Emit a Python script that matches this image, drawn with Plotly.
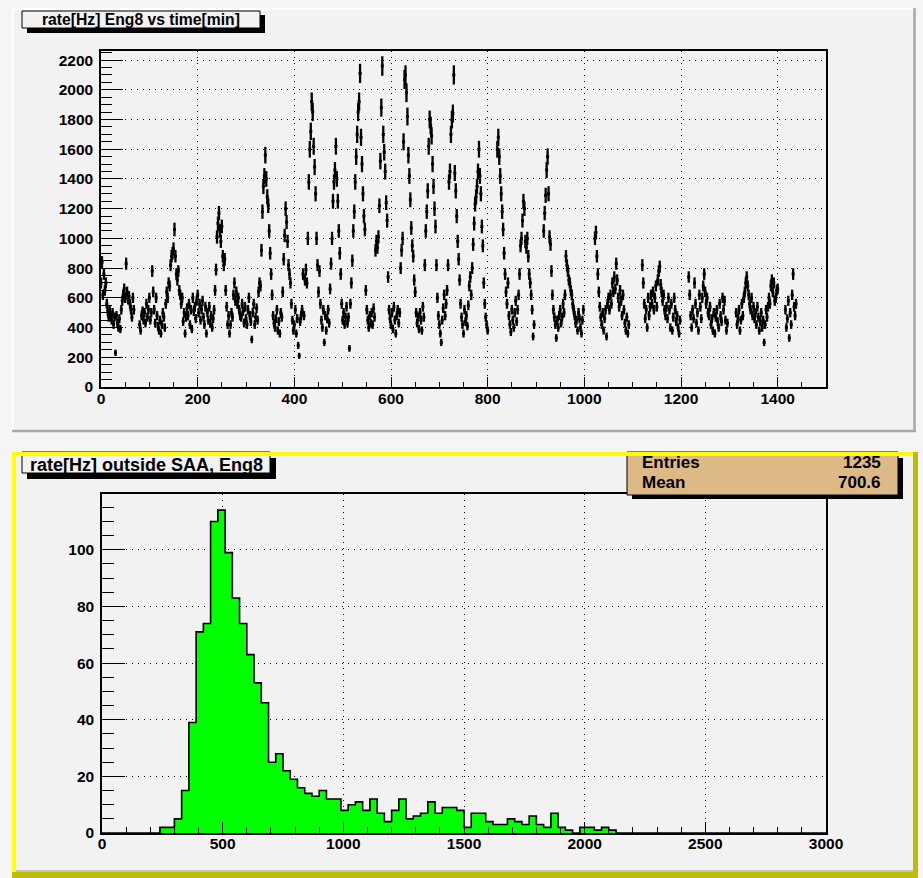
import math
import numpy as np
import plotly.graph_objects as go

# ---------------- data ----------------
# Eng8 rate [Hz], one sample every 2 minutes (None = no data)
TIME_STEP_MIN = 2
RATE_HZ = [
    700, 840, 620, 760, 650, 700, 560, 510, 470, 520, 480, 450, 500, 420, 470,
    230, 480, 430, 400, 460, 390, 520, 580, 620, 660, 600, 830, 640, 590, 610,
    560, 520, 470, 600, 520, None, None, None, None, None, 420, 380, 480, 510, 450,
    500, 430, 560, 470, 520, 600, 450, 500, 780, 640, 520, 430, 600, 480, 410,
    380, 450, 360, 420, 500, 470, 400, 560, 640, 600, 700, 680, 820, 880, 900,
    930, 1060, 880, 760, 720, 780, 650, 620, 560, 600, 440, 500, 360, 470, 530,
    480, 560, 420, 520, 390, 600, 510, 540, 460, 580, 620, 500, 560, 450, 520,
    580, 470, 420, 540, 360, 500, 450, 540, 430, 480, 400, 460, 520, 650, 790,
    1010, 1100, 1170, 1050, 980, 1080, 880, 820, 860, 650, 540, 420, 480, 360, 420,
    500, 470, 620, 700, 580, 640, 560, 600, 520, 480, 470, 560, 510, 430, 540,
    460, 420, 520, 600, 480, 440, 320, 500, 560, 420, 470, 530, 450, 640, 700,
    680, 920, 1180, 1350, 1420, 1560, 1400, 1280, 1220, 1050, 900, 760, 620, 480, 430,
    400, 460, 520, 380, 440, 360, 500, 470, 640, 860, 1020, 1200, 1110, 980, 820,
    760, 700, 560, 450, 380, 420, 520, 360, 460, 280, 210, 440, 480, 520, 760,
    480, 720, 790, 700, 1000, 1380, 1600, 1720, 1920, 1850, 1620, 1480, 1300, 1000, 820,
    640, 780, 560, 450, 400, 520, 300, 480, 380, 460, 520, 430, 660, 830, 1000,
    1250, 1380, 1460, 1620, 1400, 1250, 1050, 900, 760, 560, 450, 500, 420, 470, 540,
    430, 470, 260, 560, 700, 850, 1050, 1180, 1380, 1550, 1700, 1850, 1920, 2110, 1680,
    1500, 1300, 1150, 1060, 650, 520, 450, 400, 480, 430, 500, 420, 530, 470, 920,
    980, 940, 1010, 1220, 1520, 1880, 2160, 1700, 1580, 1450, 1240, 1120, 740, 520, 460,
    420, 500, 390, 540, 450, 360, 480, 520, 430, 500, 800, 920, 1000, 1650, 2070,
    2100, 1980, 1820, 1560, 1420, 1260, 1070, 950, 880, 720, 640, 500, 430, 470, 390,
    500, 450, 380, 540, 470, 820, 1050, 1180, 1320, 1620, 1800, 1760, 1690, 1500, 1350,
    1200, 1080, 820, 600, 480, 420, 360, 300, 450, 530, 620, 480, 560, 650, 820,
    1380, 1450, 1700, 1800, 1840, 2100, 1440, 1320, 1150, 980, 860, 720, 560, 470, 420,
    360, 520, 440, 480, 410, 550, 680, 740, 620, 800, 960, 1100, 1230, 1280, 1350,
    1450, 1600, 1420, 1300, 1080, 950, 700, 560, 470, 420, 380, None, None, None, None,
    None, None, None, None, None, 1600, 1680, 1550, 1420, 1300, 1180, 1060, 900, 760, 640,
    560, 700, 480, 420, 370, 520, 450, 400, 500, 580, 440, 520, 620, 760, 950,
    1000, 1120, 1250, 1200, 980, 940, 1000, 880, 760, 700, 620, 520, 340, 420, None,
    None, None, None, None, None, None, None, None, 1050, 1170, 1290, 1460, 1550, 1300, 1010,
    960, 780, 620, 520, 470, 420, 330, 450, 400, 480, 520, 430, 470, 560, 500,
    620, 880, 820, 780, 720, 700, 650, 620, 560, 520, 480, 430, 450, 380, 500,
    460, 400, 360, 450, 520, None, None, None, None, None, None, None, None, None, None,
    None, 1000, 1040, 880, 760, 640, 540, 470, 420, 500, 380, 460, 520, 340, 560,
    600, 520, 620, 560, 700, 640, 740, 660, 830, 720, 600, 540, 650, 580, 480,
    620, 520, 430, 380, 470, 360, 420, None, None, None, None, None, None, None, None,
    None, None, None, None, None, 820, 700, 560, 460, 520, 400, 600, 480, 540, 620,
    560, 640, 520, 600, 680, 540, 720, 780, 810, 690, 640, 580, 620, 520, 480,
    540, 460, 600, 520, 400, 560, 380, 470, 600, 520, 440, 480, 400, 360, 450,
    None, None, None, None, None, None, None, None, 740, 620, 480, 400, 520, 460, 700,
    560, 430, 500, 380, 620, 540, 460, 600, 680, 760, 640, 560, 600, 500, 480,
    540, 420, 460, 380, 500, 360, 470, 520, 440, 400, 560, 480, 440, 600, 520,
    580, 450, 380, 430, None, None, None, None, None, None, None, None, 500, 420, 460,
    520, 380, 450, 560, 480, 600, 640, 700, 740, 680, 620, 560, 520, 600, 480,
    540, 460, 500, 420, 540, 470, 380, 440, 500, 400, 450, 300, 420, 520, 470,
    540, 600, 560, 680, 720, 640, 700, 580, 600, 650, 660, None, None, None, None,
    None, None, None, 520, 400, 460, 580, 330, 500, 420, 620, 760, 540, 480, 560,
]
TIME_MIN = [i * TIME_STEP_MIN for i in range(len(RATE_HZ))]
LIVE_TIME_S = 0.5  # counting time per sample, sets the statistical error bars

# Rate histogram outside SAA: 100 bins of 30 Hz from 0 to 3000 Hz
HIST_LO, HIST_HI, HIST_BIN = 0, 3000, 30
HIST_COUNTS = [
    0, 0, 0, 0, 0, 0, 0, 0, 2, 2,          # 0 - 300
    5, 15, 39, 71, 74, 110, 114, 99, 83, 74,   # 300 - 600
    63, 53, 46, 25, 28, 22, 19, 16, 14, 13,    # 600 - 900
    15, 12, 12, 8, 10, 11, 8, 12, 7, 4,        # 900 - 1200
    8, 12, 5, 6, 7, 11, 7, 9, 9, 8,            # 1200 - 1500
    2, 7, 7, 4, 3, 3, 5, 4, 3, 6,              # 1500 - 1800
    3, 2, 7, 2, 1, 0, 2, 2, 1, 2,              # 1800 - 2100
    1, 0, 0, 0, 0, 0, 0, 0, 0, 0,              # 2100 - 2400
    0, 0, 0, 0, 0, 0, 0, 0, 0, 0,              # 2400 - 2700
    0, 0, 0, 0, 0, 0, 0, 0, 0, 0,              # 2700 - 3000
]
STATS_MEAN = 700.6

TOP_TITLE = "rate[Hz] Eng8 vs time[min]"
BOTTOM_TITLE = "rate[Hz] outside SAA, Eng8"

# ---------------- canvas geometry (pixels) ----------------
W, H = 923, 878
PAD_BG = "#f2f2f2"
CANVAS_BG = "#f5f5f5"
FONT = "Liberation Sans, Arial, Helvetica, sans-serif"


def px(x):
    return x / W


def py(y):
    return 1 - y / H


rate_err = [None if r is None else math.sqrt(r / LIVE_TIME_S) for r in RATE_HZ]

edges = [HIST_LO + i * HIST_BIN for i in range(len(HIST_COUNTS) + 1)]
centers = [e + HIST_BIN / 2 for e in edges[:-1]]
entries = int(sum(HIST_COUNTS))

fig = go.Figure()

# time series with statistical error bars
fig.add_trace(go.Scatter(
    x=TIME_MIN, y=RATE_HZ, mode="markers",
    marker=dict(color="black", size=3, symbol="square", line=dict(width=0)),
    error_y=dict(type="data", array=rate_err, visible=True, color="black",
                 thickness=2.3, width=0),
    xaxis="x", yaxis="y", showlegend=False, hoverinfo="x+y",
))

# histogram: green fill plus black step outline
fig.add_trace(go.Bar(
    x=centers, y=HIST_COUNTS, width=HIST_BIN,
    marker=dict(color="#00ff00", line=dict(width=0)),
    xaxis="x2", yaxis="y2", showlegend=False,
))
fig.add_trace(go.Scatter(
    x=edges, y=HIST_COUNTS + [HIST_COUNTS[-1]], mode="lines",
    line=dict(color="black", width=1.6, shape="hv"),
    xaxis="x2", yaxis="y2", showlegend=False, hoverinfo="skip",
))

tick_font = dict(family=FONT, size=15.5, color="black", weight="bold")
common = dict(
    showline=True, linecolor="black", linewidth=1.5, mirror=True,
    ticks="inside", tickcolor="black", tickwidth=1,
    showgrid=True, gridcolor="black", gridwidth=1.2, griddash="1px,5px",
    zeroline=False, tickfont=tick_font, fixedrange=True, automargin=False,
)

fig.update_layout(
    width=W, height=H, autosize=False,
    margin=dict(l=0, r=0, t=0, b=0, pad=0),
    paper_bgcolor=CANVAS_BG, plot_bgcolor="rgba(0,0,0,0)",
    bargap=0,
    xaxis=dict(domain=[px(101), px(826)], range=[0, 1500], tick0=0, dtick=200,
               ticklen=10, anchor="y", ticklabelstandoff=-3,
               minor=dict(dtick=50, ticklen=5, ticks="inside", tickcolor="black",
                          showgrid=False), **common),
    yaxis=dict(domain=[py(387), py(51)], range=[0, 2261], tick0=0, dtick=200,
               ticklen=22, anchor="x", ticklabelstandoff=3,
               minor=dict(dtick=50, ticklen=11, ticks="inside", tickcolor="black",
                          showgrid=False), **common),
    xaxis2=dict(domain=[px(102), px(826)], range=[0, 3000], tick0=0, dtick=500,
                ticklen=11, anchor="y2", ticklabelstandoff=-4,
                minor=dict(dtick=100, ticklen=6, ticks="inside", tickcolor="black",
                           showgrid=False), **common),
    yaxis2=dict(domain=[py(833), py(494)], range=[0, 119.7], tick0=0, dtick=20,
                ticklen=23, anchor="x2", ticklabelstandoff=3,
                minor=dict(dtick=5, ticklen=12, ticks="inside", tickcolor="black",
                           showgrid=False), **common),
)


def rect(x0, y0, x1, y1, fill, line_color=None, line_width=0, layer="above"):
    return dict(type="rect", xref="paper", yref="paper",
                x0=px(x0), x1=px(x1), y0=py(y1), y1=py(y0),
                fillcolor=fill, layer=layer,
                line=dict(color=line_color or fill, width=line_width))


def hline(x0, x1, y, color, width):
    return dict(type="line", xref="paper", yref="paper", x0=px(x0), x1=px(x1),
                y0=py(y), y1=py(y), line=dict(color=color, width=width), layer="above")


def vline(x, y0, y1, color, width):
    return dict(type="line", xref="paper", yref="paper", x0=px(x), x1=px(x),
                y0=py(y0), y1=py(y1), line=dict(color=color, width=width), layer="above")


shapes = [
    # pad backgrounds
    rect(12, 8, 916, 432, PAD_BG, layer="below"),
    rect(12, 452, 918, 878, PAD_BG, layer="below"),
    # top pad bevel
    hline(12, 916, 9, "#ffffff", 2),
    vline(13, 8, 432, "#ffffff", 2),
    hline(12, 916, 431, "#a8a8a8", 2.5),
    vline(914.5, 8, 432, "#a8a8a8", 2.5),
    # top title box with shadow
    rect(27, 15, 265, 33, "black"),
    rect(22, 11, 260, 28, PAD_BG, line_color="black", line_width=1),
    # bottom title box with shadow
    rect(27, 458, 276, 479, "black"),
    rect(22, 452, 270, 473, PAD_BG, line_color="black", line_width=1),
    # statistics box with shadow
    rect(632, 458, 903, 499, "black"),
    rect(627, 452, 898, 495, "#ddb985", line_color="black", line_width=1),
    # highlighted (selected) pad border
    hline(12, 918, 454, "#ffff00", 4),
    vline(14, 452, 878, "#ffff00", 4),
    vline(915.5, 452, 878, "#bcbc00", 5),
    hline(12, 918, 875, "#bcbc00", 6),
    hline(16, 913, 871, "#b0b0b0", 1.5),
]

annotations = [
    dict(text=TOP_TITLE, x=px(141), y=py(20), xref="paper", yref="paper",
         xanchor="center", yanchor="middle", showarrow=False,
         font=dict(family=FONT, size=15.7, color="black", weight="bold")),
    dict(text=BOTTOM_TITLE, x=px(146), y=py(465), xref="paper", yref="paper",
         xanchor="center", yanchor="middle", showarrow=False,
         font=dict(family=FONT, size=18, color="black", weight="bold")),
    dict(text="Entries", x=px(640), y=py(462.5), xref="paper", yref="paper",
         xanchor="left", yanchor="middle", showarrow=False,
         font=dict(family=FONT, size=17, color="black", weight="bold")),
    dict(text=f"{entries}", x=px(883), y=py(462.5), xref="paper", yref="paper",
         xanchor="right", yanchor="middle", showarrow=False,
         font=dict(family=FONT, size=17, color="black", weight="bold")),
    dict(text="Mean", x=px(640), y=py(483), xref="paper", yref="paper",
         xanchor="left", yanchor="middle", showarrow=False,
         font=dict(family=FONT, size=17, color="black", weight="bold")),
    dict(text=f"{STATS_MEAN:.1f}", x=px(883), y=py(483), xref="paper", yref="paper",
         xanchor="right", yanchor="middle", showarrow=False,
         font=dict(family=FONT, size=17, color="black", weight="bold")),
]

fig.update_layout(shapes=shapes, annotations=annotations)

# page without body margin so the canvas fills the window exactly
fig.write_html(
    "out.html",
    post_script="document.body.style.margin='0';document.body.style.overflow='hidden';",
)
